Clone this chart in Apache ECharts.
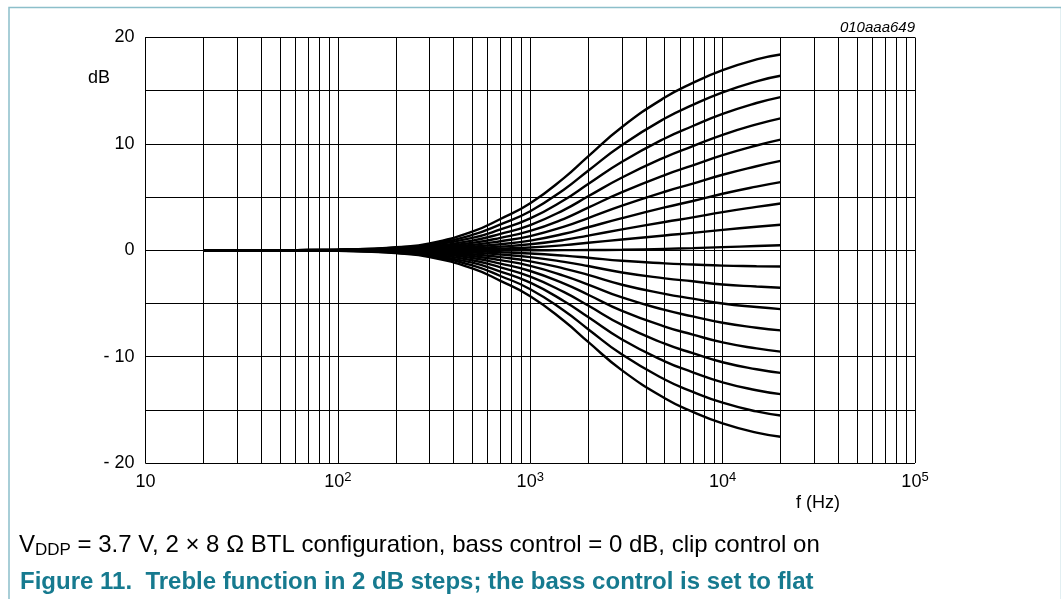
<!DOCTYPE html>
<html>
<head>
<meta charset="utf-8">
<script src="https://cdn.jsdelivr.net/npm/echarts@6/dist/echarts.min.js"></script>
<style>
html,body{margin:0;padding:0;background:#fff;}
#c{width:1061px;height:599px;}
</style>
</head>
<body>
<div id="c"></div>
<script>
// Frequencies (Hz) at which curves are sampled
var freqs = [20, 30, 50, 70, 100, 150, 200, 300, 500, 700, 1000, 1500, 2000, 3000, 5000, 7000, 10000, 15000, 20000];
// Treble settings, gain in dB
var p18 = [0, 0, 0, 0.03, 0.06, 0.15, 0.28, 0.64, 1.75, 2.94, 4.42, 6.81, 8.83, 11.59, 14.35, 15.73, 16.93, 17.94, 18.4];
var p16 = [0, 0, 0, 0.02, 0.05, 0.12, 0.23, 0.53, 1.44, 2.43, 3.67, 5.72, 7.48, 9.90, 12.38, 13.66, 14.84, 15.88, 16.4];
var p14 = [0, 0, 0, 0.02, 0.04, 0.10, 0.18, 0.43, 1.16, 1.96, 2.99, 4.72, 6.23, 8.32, 10.51, 11.68, 12.82, 13.84, 14.4];
var p12 = [0, 0, 0, 0.01, 0.03, 0.08, 0.14, 0.34, 0.91, 1.54, 2.37, 3.80, 5.07, 6.84, 8.74, 9.79, 10.85, 11.83, 12.4];
var p10 = [0, 0, 0, 0.01, 0.02, 0.06, 0.11, 0.25, 0.69, 1.17, 1.82, 2.96, 4.00, 5.46, 7.07, 7.98, 8.94, 9.85, 10.4];
var p8  = [0, 0, 0, 0, 0.01, 0.04, 0.08, 0.18, 0.50, 0.85, 1.33, 2.22, 3.03, 4.19, 5.50, 6.26, 7.10, 7.90, 8.4];
var p6  = [0, 0, 0, 0, 0.01, 0.03, 0.05, 0.12, 0.33, 0.57, 0.91, 1.55, 2.16, 3.02, 4.03, 4.63, 5.31, 5.98, 6.4];
var p4  = [0, 0, 0, 0, 0.01, 0.02, 0.03, 0.07, 0.20, 0.34, 0.56, 0.97, 1.38, 1.96, 2.66, 3.09, 3.59, 4.08, 4.4];
var p2  = [0, 0, 0, 0, 0, 0.01, 0.01, 0.03, 0.09, 0.16, 0.26, 0.48, 0.70, 1.01, 1.39, 1.63, 1.92, 2.21, 2.4];
var z0  = [0, 0, 0, 0, 0, 0, 0, 0, 0, 0, 0, 0.01, 0.02, 0.05, 0.13, 0.20, 0.29, 0.40, 0.47];
var m2  = [0, 0, 0, 0, 0, -0.01, -0.02, -0.04, -0.10, -0.18, -0.30, -0.51, -0.70, -0.99, -1.23, -1.34, -1.45, -1.50, -1.53];
var m4  = [0, 0, 0, 0, -0.01, -0.02, -0.04, -0.09, -0.22, -0.40, -0.65, -1.09, -1.48, -2.09, -2.64, -2.92, -3.22, -3.41, -3.53];
var m6  = [0, 0, 0, 0, -0.01, -0.03, -0.06, -0.14, -0.37, -0.65, -1.04, -1.72, -2.32, -3.24, -4.10, -4.55, -5.01, -5.34, -5.53];
var m8  = [0, 0, 0, 0, -0.01, -0.04, -0.09, -0.20, -0.54, -0.93, -1.47, -2.40, -3.22, -4.44, -5.61, -6.22, -6.82, -7.28, -7.53];
var m10 = [0, 0, 0, -0.01, -0.02, -0.06, -0.12, -0.28, -0.73, -1.25, -1.95, -3.14, -4.18, -5.70, -7.17, -7.93, -8.66, -9.23, -9.53];
var m12 = [0, 0, 0, -0.01, -0.03, -0.08, -0.15, -0.35, -0.94, -1.61, -2.48, -3.94, -5.20, -7.02, -8.78, -9.68, -10.53, -11.19, -11.53];
var m14 = [0, 0, 0, -0.02, -0.04, -0.10, -0.19, -0.44, -1.17, -2.00, -3.05, -4.79, -6.28, -8.39, -10.44, -11.47, -12.42, -13.16, -13.53];
var m16 = [0, 0, 0, -0.02, -0.04, -0.12, -0.23, -0.53, -1.43, -2.42, -3.66, -5.69, -7.42, -9.81, -12.15, -13.31, -14.33, -15.15, -15.53];
var m18 = [0, 0, 0, -0.03, -0.05, -0.14, -0.27, -0.63, -1.71, -2.88, -4.32, -6.65, -8.62, -11.29, -13.91, -15.19, -16.27, -17.15, -17.53];

var curves = [p18, p16, p14, p12, p10, p8, p6, p4, p2, z0, m2, m4, m6, m8, m10, m12, m14, m16, m18];

// axis text
var yTickValues = [-20, -10, 0, 10, 20];
var xDecades = [10, 100, 1000, 10000, 100000];
var docId = '010aaa649';
var yUnit = 'dB';
var xUnit = 'f (Hz)';
var caption = ' = 3.7 V, 2 \u00d7 8 \u03a9 BTL configuration, bass control = 0 dB, clip control on';
var figTitle = 'Figure 11.  Treble function in 2 dB steps; the bass control is set to flat';

var FONT = '"Liberation Sans", Arial, sans-serif';

// minor vertical grid positions (2..9 of each decade)
var minorX = [];
for (var d = 0; d < xDecades.length - 1; d++) {
  for (var k = 2; k <= 9; k++) minorX.push({xAxis: xDecades[d] * k});
}

var series = curves.map(function (arr, i) {
  var s = {
    type: 'line',
    data: freqs.map(function (f, j) { return [f, arr[j]]; }),
    showSymbol: false,
    symbol: 'none',
    smooth: 0.5,
    lineStyle: {color: '#000', width: 2.4},
    silent: true,
    animation: false,
    z: 3
  };
  if (i === 0) {
    s.markLine = {
      silent: true,
      symbol: ['none', 'none'],
      label: {show: false},
      lineStyle: {color: '#000', width: 1, type: 'solid'},
      animation: false,
      data: minorX
    };
  }
  return s;
});

var chart = echarts.init(document.getElementById('c'), null, {renderer: 'canvas'});
chart.setOption({
  backgroundColor: '#fff',
  animation: false,
  grid: {left: 145.5, right: 146, top: 37.5, bottom: 136, containLabel: false},
  xAxis: {
    type: 'log',
    logBase: 10,
    min: 10,
    max: 100000,
    axisLine: {show: true, lineStyle: {color: '#000', width: 1}},
    axisTick: {show: false},
    splitLine: {show: true, lineStyle: {color: '#000', width: 1}},
    axisLabel: {
      margin: 8,
      formatter: function (v) {
        var e = Math.round(Math.log10(v));
        if (e === 1) return '{b|10}';
        return '{b|10}{s|' + e + '}';
      },
      rich: {
        b: {fontFamily: FONT, fontSize: 18, color: '#000', lineHeight: 22},
        s: {fontFamily: FONT, fontSize: 13, color: '#000', verticalAlign: 'top', lineHeight: 22, padding: [0, 0, 8, 0]}
      }
    }
  },
  yAxis: {
    type: 'value',
    min: -20,
    max: 20,
    interval: 5,
    axisLine: {show: true, lineStyle: {color: '#000', width: 1}},
    axisTick: {show: false},
    splitLine: {show: true, lineStyle: {color: '#000', width: 1}},
    axisLabel: {
      margin: 11,
      fontFamily: FONT,
      fontSize: 18,
      color: '#000',
      formatter: function (v) {
        if (yTickValues.indexOf(v) < 0) return '';
        if (v < 0) return '- ' + (-v);
        return String(v);
      }
    }
  },
  graphic: [
    {type: 'rect', left: 6.5, top: 5, shape: {x: 0, y: 0, width: 1052.5, height: 640}, style: {fill: 'none', stroke: '#8cbfca', lineWidth: 1.5}, silent: true},
    {type: 'text', right: 1061 - 915, top: 20, style: {text: docId, font: 'italic 15px ' + FONT, fill: '#000', textAlign: 'right'}},
    {type: 'text', left: 88, top: 69, style: {text: yUnit, font: '18px ' + FONT, fill: '#000'}},
    {type: 'text', left: 796, top: 494, style: {text: xUnit, font: '18px ' + FONT, fill: '#000'}},
    {type: 'text', left: 19, top: 532, style: {
      text: '{a|V}{sub|DDP}{a|' + caption + '}',
      rich: {
        a: {fontFamily: FONT, fontSize: 24, fill: '#000', lineHeight: 27},
        sub: {fontFamily: FONT, fontSize: 17, fill: '#000', lineHeight: 27, verticalAlign: 'bottom', padding: [10, 0, 0, 0]}
      }
    }},
    {type: 'text', left: 20, top: 570, style: {text: figTitle, font: 'bold 24px ' + FONT, fill: '#167a8f'}}
  ],
  series: series
});
</script>
</body>
</html>
